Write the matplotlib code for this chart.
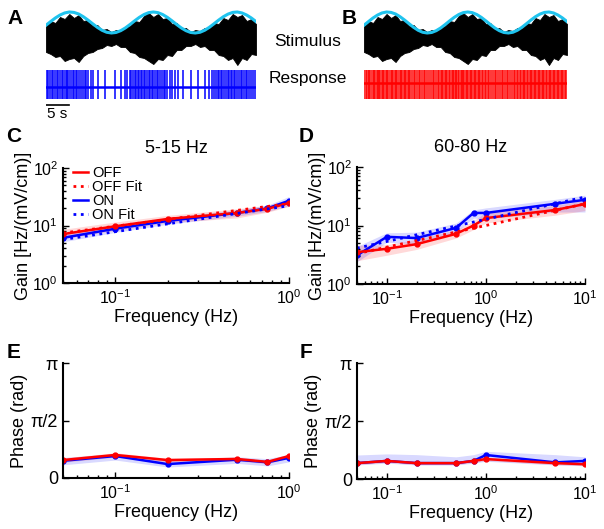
import matplotlib
matplotlib.use("Agg")
import matplotlib.pyplot as plt
import numpy as np

plt.rcParams['font.family'] = ['Liberation Sans', 'DejaVu Sans']
plt.rcParams['mathtext.default'] = 'regular'

# ---- top traces (A, B) ----
stim_t = list(range(46))  # seconds
cyan_wave = [-0.26, 0.09, 0.43, 0.71, 0.91, 1.0, 0.96, 0.81, 0.55, 0.23, -0.12, -0.46,
             -0.74, -0.93, -1.0, -0.95, -0.78, -0.52, -0.19, 0.16, 0.49, 0.76, 0.94, 1.0,
             0.94, 0.76, 0.49, 0.16, -0.19, -0.52, -0.78, -0.95, -1.0, -0.93, -0.74, -0.46,
             -0.12, 0.23, 0.55, 0.80, 0.96, 1.0, 0.91, 0.71, 0.43, 0.09]
stim_upper = [12, 17, 15, 21, 19, 24, 20, 23, 17, 18, 12, 13, 8, 9, 6, 8, 7, 11, 12, 17, 16, 22,
              25, 21, 24, 19, 20, 14, 15, 9, 10, 6, 8, 7, 10, 10, 15, 14, 20, 18, 24, 21, 23, 17, 19, 14]
stim_lower = [14, 16, 19, 18, 23, 21, 20, 24, 18, 15, 14, 11, 10, 7, 8, 6, 9, 9, 14, 15, 19, 20,
              23, 26, 21, 22, 17, 18, 12, 12, 8, 8, 6, 9, 8, 12, 12, 17, 18, 22, 20, 27, 20, 22, 16, 17]
spikes_on = [0.2, 0.5, 0.9, 1.3, 1.6, 2.0, 2.4, 2.6, 3.1, 3.4, 3.7, 4.1, 4.4, 4.6, 5.0, 5.3, 5.7, 6.0,
             6.4, 6.7, 7.1, 7.4, 7.9, 8.3, 8.6, 9.1, 9.6, 10.1, 11.2, 12.6, 14.8, 16.0, 16.9, 17.4,
             17.9, 18.3, 18.6, 19.0, 19.3, 19.7, 20.0, 20.4, 20.6, 21.0, 21.3, 21.7, 22.0, 22.3, 22.7,
             23.0, 23.4, 23.7, 24.1, 24.5, 24.8, 25.2, 25.6, 26.0, 26.5, 27.0, 27.6, 28.3, 29.4, 31.0,
             32.6, 34.0, 34.9, 35.5, 36.0, 36.4, 36.8, 37.1, 37.5, 37.8, 38.2, 38.5, 38.9, 39.2, 39.6,
             39.9, 40.3, 40.6, 41.0, 41.3, 41.7, 42.0, 42.4, 42.8, 43.1, 43.5, 43.9, 44.3, 44.7]
spikes_off = [0.1, 0.4, 0.7, 1.0, 1.2, 1.5, 1.9, 2.2, 2.4, 2.8, 3.1, 3.3, 3.6, 4.0, 4.3, 4.5, 4.9, 5.2,
              5.4, 5.7, 6.1, 6.3, 6.6, 7.0, 7.2, 7.5, 7.9, 8.1, 8.5, 8.8, 9.0, 9.4, 9.7, 10.0, 10.3,
              10.7, 11.0, 11.4, 11.8, 12.1, 12.5, 12.9, 13.3, 13.6, 14.0, 14.5, 14.9, 15.2, 15.6, 16.0,
              16.3, 16.7, 17.0, 17.3, 17.6, 17.9, 18.2, 18.5, 18.8, 19.1, 19.4, 19.7, 20.0, 20.3, 20.5,
              20.8, 21.1, 21.4, 21.7, 22.0, 22.2, 22.5, 22.8, 23.1, 23.4, 23.7, 24.0, 24.3, 24.6, 24.9,
              25.2, 25.5, 25.8, 26.1, 26.4, 26.8, 27.1, 27.5, 27.8, 28.2, 28.6, 29.0, 29.3, 29.7, 30.1,
              30.5, 30.9, 31.3, 31.6, 32.0, 32.4, 32.8, 33.2, 33.5, 33.9, 34.2, 34.6, 34.9, 35.2, 35.5,
              35.8, 36.1, 36.4, 36.7, 37.0, 37.3, 37.6, 37.9, 38.2, 38.5, 38.8, 39.1, 39.4, 39.7, 40.0,
              40.3, 40.6, 40.9, 41.2, 41.5, 41.8, 42.1, 42.4, 42.7, 43.0, 43.3, 43.6, 43.9, 44.2, 44.5, 44.8]

# ---- gain (C: 5-15 Hz, D: 60-80 Hz) ----
freq_c = [0.05, 0.1, 0.2, 0.5, 0.75, 1.0]
gain_c_off = [7.1, 9.7, 13.0, 16.5, 19.5, 24.6]
gain_c_off_lo = [5.9, 8.2, 11.2, 13.5, 17.0, 21.5]
gain_c_off_hi = [8.6, 11.5, 15.0, 19.5, 22.5, 28.0]
gain_c_on = [6.1, 8.8, 12.0, 16.5, 19.8, 27.0]
gain_c_on_lo = [5.2, 7.6, 10.5, 14.5, 17.5, 22.0]
gain_c_on_hi = [7.2, 10.0, 13.7, 18.8, 22.5, 32.0]
fit_c_x = [0.05, 1.0]
fit_c_off = [7.4, 24.0]
fit_c_on = [5.7, 22.1]

freq_d = [0.05, 0.1, 0.2, 0.5, 0.75, 1.0, 5.0, 10.0]
gain_d_off = [3.5, 4.0, 4.8, 7.2, 10.0, 13.4, 18.4, 23.3]
gain_d_off_lo = [2.5, 3.1, 3.9, 6.1, 8.5, 11.0, 15.0, 18.0]
gain_d_off_hi = [4.6, 4.7, 5.8, 8.4, 12.0, 17.0, 22.0, 27.0]
gain_d_on = [3.1, 6.4, 6.1, 9.1, 16.4, 16.4, 23.5, 27.5]
gain_d_on_lo = [2.4, 5.2, 4.8, 7.7, 13.4, 13.0, 17.0, 17.0]
gain_d_on_hi = [4.4, 7.5, 7.7, 11.0, 18.5, 20.0, 28.0, 33.0]
fit_d_x = [0.05, 10.0]
fit_d_off = [3.3, 23.5]
fit_d_on = [4.1, 30.7]

# ---- phase (E, F) ----
phase_e_off = [0.49, 0.63, 0.49, 0.52, 0.44, 0.60]
phase_e_off_lo = [0.43, 0.57, 0.44, 0.47, 0.39, 0.55]
phase_e_off_hi = [0.55, 0.69, 0.54, 0.57, 0.49, 0.66]
phase_e_on = [0.47, 0.60, 0.38, 0.50, 0.43, 0.55]
phase_e_on_lo = [0.36, 0.49, 0.30, 0.40, 0.33, 0.44]
phase_e_on_hi = [0.56, 0.66, 0.48, 0.58, 0.53, 0.64]

phase_f_off = [0.43, 0.49, 0.43, 0.43, 0.49, 0.54, 0.43, 0.40]
phase_f_off_lo = [0.39, 0.45, 0.39, 0.39, 0.45, 0.50, 0.39, 0.36]
phase_f_off_hi = [0.47, 0.53, 0.47, 0.47, 0.53, 0.58, 0.47, 0.44]
phase_f_on = [0.43, 0.49, 0.43, 0.43, 0.49, 0.65, 0.45, 0.49]
phase_f_on_lo = [0.38, 0.43, 0.38, 0.38, 0.43, 0.48, 0.38, 0.36]
phase_f_on_hi = [0.65, 0.68, 0.66, 0.60, 0.66, 0.75, 0.66, 0.60]

RED = '#ff0000'
BLUE = '#0000ff'
CYAN = '#1fc3ee'

fig = plt.figure(figsize=(6.04, 5.29), dpi=100)
W, H = 604.0, 529.0


def px_axes(x0, y0, x1, y1):
    # axes from pixel box (top-left origin)
    return fig.add_axes([x0 / W, 1 - y1 / H, (x1 - x0) / W, (y1 - y0) / H])


def trace_panel(ax, spikes, color, base):
    t = np.array(stim_t)
    ax.fill_between(t, 38 - np.array(stim_upper), 38 + np.array(stim_lower),
                    color='black', lw=0.6)
    ax.plot(t, 22.5 - 10.5 * np.array(cyan_wave), color=CYAN, lw=2.2)
    ax.vlines(spikes, 70, 99, color=color, lw=1.1)
    ax.plot([0, 45], [base, base], color=color, lw=1.8)
    ax.set_xlim(0, 45)
    ax.set_ylim(120, 8)
    ax.axis('off')


axA = px_axes(46, 8, 256, 120)
trace_panel(axA, spikes_on, BLUE, 87)
axA.plot([0, 5], [105, 105], color='black', lw=1.2)
axA.text(2.4, 107, '5 s', ha='center', va='top', fontsize=11)

axB = px_axes(364, 8, 567, 120)
trace_panel(axB, spikes_off, RED, 83)

fig.text(308 / W, 1 - 42 / H, 'Stimulus', ha='center', va='center', fontsize=12.5)
fig.text(308 / W, 1 - 78 / H, 'Response', ha='center', va='center', fontsize=12.5)


def style(ax):
    for s in ['top', 'right']:
        ax.spines[s].set_visible(False)
    ax.spines['left'].set_linewidth(1.5)
    ax.spines['bottom'].set_linewidth(1.5)
    ax.tick_params(which='both', direction='in', labelsize=11.5, width=1)
    ax.tick_params(which='major', length=4)
    ax.tick_params(which='minor', length=2.5)
    ax.set_xlabel('Frequency (Hz)', fontsize=13, labelpad=2)


def gain_panel(ax, f, off, off_lo, off_hi, on, on_lo, on_hi, fx, foff, fon, xmax, title):
    ax.fill_between(f, on_lo, on_hi, color=BLUE, alpha=0.15, lw=0)
    ax.fill_between(f, off_lo, off_hi, color=RED, alpha=0.15, lw=0)
    ax.plot(f, on, color=BLUE, lw=1.8, marker='o', ms=3.5, label='ON')
    ax.plot(f, off, color=RED, lw=1.8, marker='o', ms=3.5, label='OFF')
    ax.plot(fx, foff, color=RED, lw=2, ls=':', label='OFF Fit')
    ax.plot(fx, fon, color=BLUE, lw=2, ls=':', label='ON Fit')
    ax.set_xscale('log')
    ax.set_yscale('log')
    ax.set_xlim(0.05, xmax)
    ax.set_ylim(1, 100)
    ax.set_ylabel('Gain [Hz/(mV/cm)]', fontsize=13, labelpad=0)
    ax.set_title(title, fontsize=13, pad=11)
    style(ax)


axC = px_axes(63, 168, 289, 283)
gain_panel(axC, freq_c, gain_c_off, gain_c_off_lo, gain_c_off_hi, gain_c_on, gain_c_on_lo,
           gain_c_on_hi, fit_c_x, fit_c_off, fit_c_on, 1.0, '5-15 Hz')
h, l = axC.get_legend_handles_labels()
order = [l.index(k) for k in ['OFF', 'OFF Fit', 'ON', 'ON Fit']]
leg = axC.legend([h[i] for i in order], [l[i] for i in order], loc='upper left',
                 bbox_to_anchor=(0.02, 1.07), frameon=False, fontsize=10.5, handlelength=1.0,
                 handletextpad=0.3, labelspacing=0.0, borderaxespad=0)
for lh in leg.get_lines():
    lh.set_marker('')

axD = px_axes(357, 167, 585, 284)
gain_panel(axD, freq_d, gain_d_off, gain_d_off_lo, gain_d_off_hi, gain_d_on, gain_d_on_lo,
           gain_d_on_hi, fit_d_x, fit_d_off, fit_d_on, 10.0, '60-80 Hz')


def phase_panel(ax, f, off, off_lo, off_hi, on, on_lo, on_hi, xmax):
    ax.fill_between(f, on_lo, on_hi, color=BLUE, alpha=0.15, lw=0)
    ax.fill_between(f, off_lo, off_hi, color=RED, alpha=0.15, lw=0)
    ax.plot(f, on, color=BLUE, lw=1.8, marker='o', ms=3.5)
    ax.plot(f, off, color=RED, lw=1.8, marker='o', ms=3.5)
    ax.set_xscale('log')
    ax.set_xlim(0.05, xmax)
    ax.set_ylim(0, np.pi)
    ax.set_yticks([0, np.pi / 2, np.pi])
    ax.set_yticklabels(['0', 'π/2', 'π'])
    ax.set_ylabel('Phase (rad)', fontsize=13, labelpad=2)
    style(ax)
    ax.tick_params(axis='y', labelsize=13)


axE = px_axes(63, 363, 289, 478)
phase_panel(axE, freq_c, phase_e_off, phase_e_off_lo, phase_e_off_hi, phase_e_on,
            phase_e_on_lo, phase_e_on_hi, 1.0)
axF = px_axes(357, 363, 585, 479)
phase_panel(axF, freq_d, phase_f_off, phase_f_off_lo, phase_f_off_hi, phase_f_on,
            phase_f_on_lo, phase_f_on_hi, 10.0)

for lab, x, y in [('A', 15, 18), ('B', 349, 18), ('C', 14, 137), ('D', 306, 137),
                  ('E', 14, 352), ('F', 306, 352)]:
    fig.text(x / W, 1 - y / H, lab, ha='center', va='center', fontsize=15, fontweight='bold')

fig.savefig('out.png', dpi=100)
